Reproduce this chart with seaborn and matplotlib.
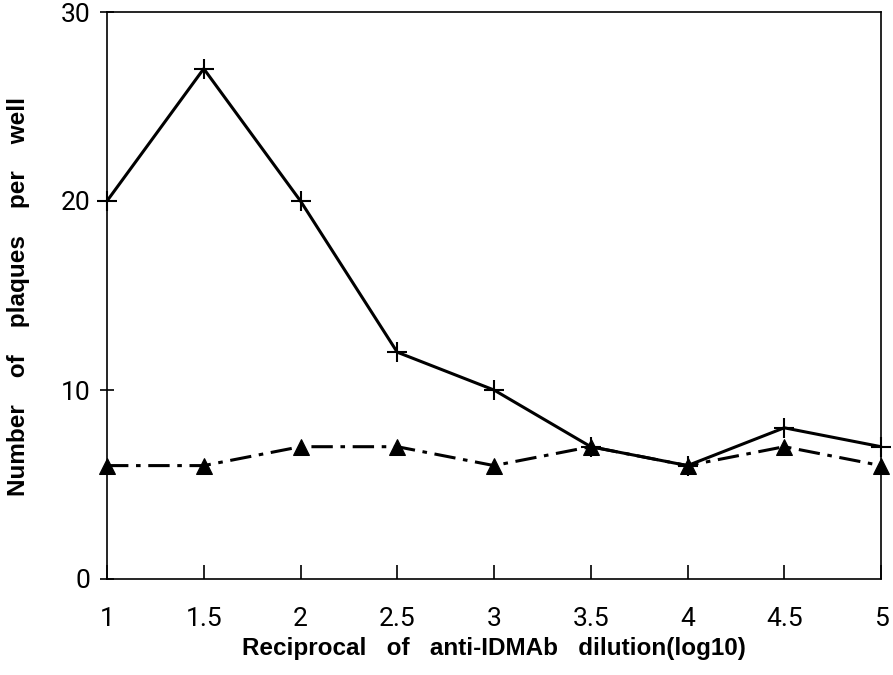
import matplotlib
matplotlib.use("Agg")
import matplotlib.pyplot as plt
import seaborn as sns
import pandas as pd

dilution = [1, 1.5, 2, 2.5, 3, 3.5, 4, 4.5, 5]
plus_series = [20, 27, 20, 12, 10, 7, 6, 8, 7]
triangle_series = [6, 6, 7, 7, 6, 7, 6, 7, 6]
x_ticks = [1, 1.5, 2, 2.5, 3, 3.5, 4, 4.5, 5]
x_tick_labels = ["1", "1.5", "2", "2.5", "3", "3.5", "4", "4.5", "5"]
y_ticks = [0, 10, 20, 30]

sns.set_style("white")
plt.rcParams['font.family'] = ['Liberation Sans', 'DejaVu Sans']
plt.rcParams['text.color'] = 'black'
plt.rcParams['axes.labelcolor'] = 'black'
plt.rcParams['xtick.color'] = 'black'
plt.rcParams['ytick.color'] = 'black'

df_plus = pd.DataFrame({"x": dilution, "y": plus_series})
df_tri = pd.DataFrame({"x": dilution, "y": triangle_series})

fig = plt.figure(figsize=(8.93, 6.75), dpi=100)
ax = fig.add_axes([107/893, 1 - 579/675, (881 - 107)/893, (579 - 12)/675])

sns.lineplot(data=df_plus, x="x", y="y", ax=ax, color="black", linewidth=2.2,
             marker="+", markersize=14, markeredgewidth=1.5,
             markeredgecolor="black", clip_on=False)
sns.lineplot(data=df_tri, x="x", y="y", ax=ax, color="black", linewidth=2.2,
             linestyle=(0, (7, 2.5, 1.5, 2.5)), marker="^", markersize=11,
             markeredgecolor="black", markerfacecolor="black", clip_on=False)

ax.set_xlim(1, 5)
ax.set_ylim(0, 30)
ax.set_xticks(x_ticks)
ax.set_xticklabels(x_tick_labels)
ax.set_yticks(y_ticks)
for s in ax.spines.values():
    s.set_color("black")
    s.set_linewidth(1.2)
ax.tick_params(axis="x", direction="in", length=10, width=1.2, pad=20,
               labelsize=19, bottom=True, colors="black")
ax.tick_params(axis="y", direction="inout", length=10, width=1.2, pad=7,
               labelsize=19, left=True, colors="black")
for lbl in ax.get_xticklabels() + ax.get_yticklabels():
    lbl.set_fontfamily(['Roboto', 'DejaVu Sans'])
    lbl.set_fontweight("normal")

ax.set_xlabel("Reciprocal   of   anti-IDMAb   dilution(log10)", fontsize=17.5,
              fontweight="bold", color="black")
ax.xaxis.set_label_coords(0.5, (579 - 637) / 567)
ax.set_ylabel("Number    of    plaques    per    well", fontsize=17.5,
              fontweight="bold", color="black")
ax.yaxis.set_label_coords(-77 / 774, (579 - 296.5) / 567)

fig.savefig("out.png", dpi=100)
